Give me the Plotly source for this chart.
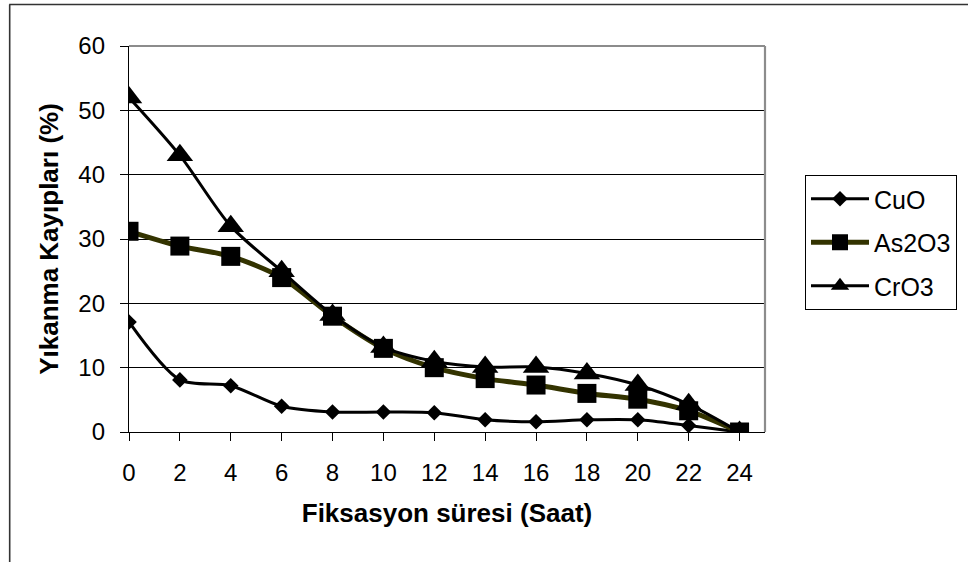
import plotly.graph_objects as go

hours = [0, 2, 4, 6, 8, 10, 12, 14, 16, 18, 20, 22, 24]
cuo = [17.1, 8.1, 7.2, 4.0, 3.1, 3.1, 3.0, 1.9, 1.6, 1.9, 1.9, 1.0, 0.0]
as2o3 = [31.2, 28.9, 27.3, 24.0, 18.0, 13.0, 10.0, 8.3, 7.3, 6.0, 5.1, 3.3, 0.0]
cro3 = [52.0, 43.0, 32.0, 25.0, 18.2, 13.2, 11.0, 10.1, 10.1, 9.1, 7.3, 4.3, 0.0]

x_title = "Fiksasyon süresi (Saat)"
y_title = "Yıkanma Kayıpları (%)"

FONT = "Liberation Sans, Arial, sans-serif"

fig = go.Figure()
fig.add_trace(go.Scatter(
    x=hours, y=cuo, name="CuO", mode="lines+markers", legendgroup="a",
    line=dict(color="black", width=3, shape="spline", smoothing=0.8),
    marker=dict(symbol="diamond", size=12, color="black"),
))
fig.add_trace(go.Scatter(
    x=hours, y=as2o3, name="As2O3", mode="lines+markers", legendgroup="b",
    line=dict(color="#333300", width=5, shape="spline", smoothing=0.8),
    marker=dict(symbol="square", size=19, color="black"),
))
fig.add_trace(go.Scatter(
    x=hours, y=cro3, name="CrO3", mode="lines+markers", legendgroup="c",
    line=dict(color="black", width=3, shape="spline", smoothing=0.8),
    marker=dict(symbol="triangle-up", size=23, color="black"),
))

W, H = 968, 562
L, T, R, B = 129, 46, 766, 432
pw, ph = R - L, B - T

def px(x):
    return (x - L) / pw

def py(y):
    return (B - y) / ph

fig.update_layout(
    width=W, height=H,
    margin=dict(l=L, r=W - R, t=T, b=H - B),
    paper_bgcolor="white", plot_bgcolor="white",
    font=dict(family=FONT, size=24, color="black"),
    showlegend=True,
    legend=dict(
        x=px(805), y=py(175), xanchor="left", yanchor="top",
        bordercolor="black", borderwidth=1, bgcolor="white",
        font=dict(size=25, family=FONT), itemwidth=58,
        tracegroupgap=8,
    ),
    xaxis=dict(
        range=[0, 25], tickvals=hours, ticktext=[str(h) for h in hours],
        showgrid=False, zeroline=False,
        showline=True, linecolor="black", linewidth=1.3,
        ticks="outside", ticklen=8, tickcolor="black", tickwidth=1.3,
        ticklabelstandoff=11,
        tickfont=dict(size=24, family=FONT),
        title=dict(text=x_title, font=dict(size=26, family=FONT, weight="bold"), standoff=18),
    ),
    yaxis=dict(
        range=[0, 60], tickvals=[0, 10, 20, 30, 40, 50, 60],
        showgrid=True, gridcolor="black", gridwidth=1.2,
        zeroline=False,
        showline=True, linecolor="black", linewidth=1.3,
        ticks="outside", ticklen=8, tickcolor="black", tickwidth=1.3,
        ticklabelstandoff=10,
        tickfont=dict(size=24, family=FONT),
        title=dict(text=y_title, font=dict(size=26, family=FONT, weight="bold"), standoff=12),
    ),
    shapes=[
        # plot area border (top and right, gray)
        dict(type="line", xref="paper", yref="paper", x0=0, x1=1, y0=1, y1=1,
             line=dict(color="#8c8c8c", width=2.2), layer="above"),
        dict(type="line", xref="paper", yref="paper", x0=1, x1=1, y0=0, y1=1,
             line=dict(color="#8c8c8c", width=2.2), layer="above"),
        # outer chart border (top and left visible)
        dict(type="line", xref="paper", yref="paper", x0=px(9), x1=px(980), y0=py(4.5), y1=py(4.5),
             line=dict(color="#333333", width=1.6), layer="above"),
        dict(type="line", xref="paper", yref="paper", x0=px(9.5), x1=px(9.5), y0=py(4.5), y1=py(580),
             line=dict(color="#333333", width=1.6), layer="above"),
    ],
)

fig.write_html(
    "out.html",
    config={"displayModeBar": False},
    post_script="document.body.style.margin='0';document.body.style.overflow='hidden';",
)
